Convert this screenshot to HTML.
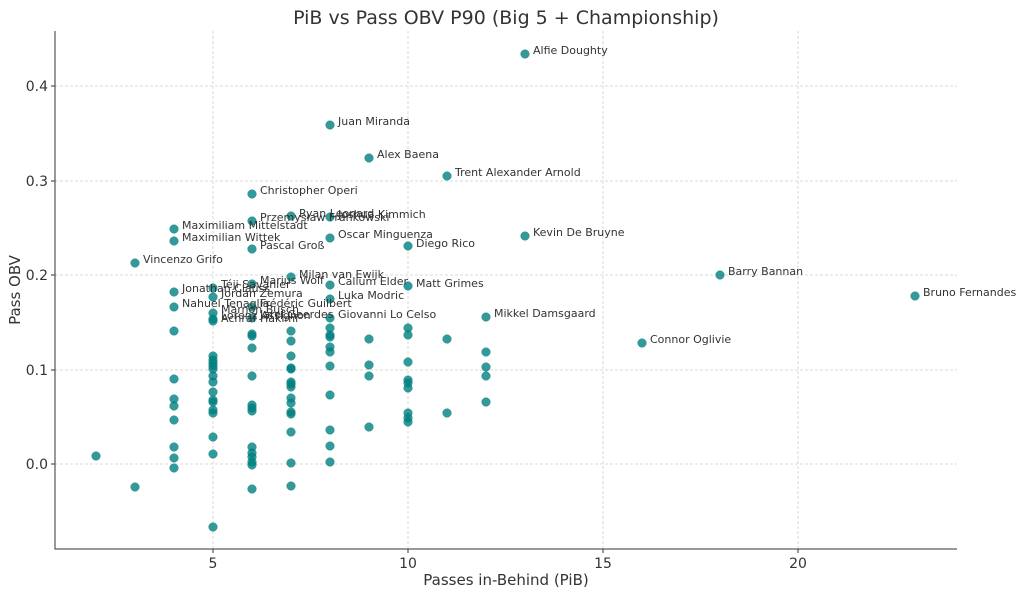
<!DOCTYPE html>
<html><head><meta charset="utf-8"><style>
body{margin:0;background:#fff;}
svg{display:block;font-family:"DejaVu Sans","Liberation Sans",sans-serif;}
.g{stroke:#d0d0d0;stroke-dasharray:3,2;stroke-width:0.8;}
.l{font-size:11px;fill:#333;}
.t{font-size:14px;fill:#333;}
circle{fill:#008080;fill-opacity:0.8;stroke:#008080;stroke-opacity:0.8;stroke-width:0.5;}
</style></head><body>
<svg width="1024" height="596" viewBox="0 0 1024 596">
<text x="506" y="24" text-anchor="middle" font-size="19" fill="#333">PiB vs Pass OBV P90 (Big 5 + Championship)</text>
<g class="g">
<line x1="213" y1="31" x2="213" y2="549"/><line x1="408" y1="31" x2="408" y2="549"/><line x1="603" y1="31" x2="603" y2="549"/><line x1="798" y1="31" x2="798" y2="549"/>
<line x1="55" y1="86" x2="957" y2="86"/><line x1="55" y1="181" x2="957" y2="181"/><line x1="55" y1="275" x2="957" y2="275"/><line x1="55" y1="370" x2="957" y2="370"/><line x1="55" y1="464" x2="957" y2="464"/>
</g>
<path d="M55,31V549H957" fill="none" stroke="#333" stroke-width="1"/>
<g stroke="#333"><line x1="213" y1="549" x2="213" y2="553"/><line x1="408" y1="549" x2="408" y2="553"/><line x1="603" y1="549" x2="603" y2="553"/><line x1="798" y1="549" x2="798" y2="553"/>
<line x1="51" y1="86" x2="55" y2="86"/><line x1="51" y1="181" x2="55" y2="181"/><line x1="51" y1="275" x2="55" y2="275"/><line x1="51" y1="370" x2="55" y2="370"/><line x1="51" y1="464" x2="55" y2="464"/></g>
<g class="t" text-anchor="middle"><text x="213" y="568">5</text><text x="408" y="568">10</text><text x="603" y="568">15</text><text x="798" y="568">20</text></g>
<g class="t" text-anchor="end"><text x="48" y="91">0.4</text><text x="48" y="186">0.3</text><text x="48" y="280">0.2</text><text x="48" y="375">0.1</text><text x="48" y="469">0.0</text></g>
<text x="506" y="585" text-anchor="middle" font-size="15" fill="#333">Passes in-Behind (PiB)</text>
<text x="20" y="290" text-anchor="middle" font-size="15" fill="#333" transform="rotate(-90 20 290)">Pass OBV</text>
<g id="pts">
<circle cx="525" cy="54" r="4.3"/><circle cx="330" cy="125" r="4.3"/><circle cx="369" cy="158" r="4.3"/><circle cx="447" cy="176" r="4.3"/><circle cx="252" cy="194" r="4.3"/><circle cx="291" cy="216" r="4.3"/><circle cx="330" cy="217" r="4.3"/><circle cx="252" cy="221" r="4.3"/><circle cx="174" cy="229" r="4.3"/><circle cx="174" cy="241" r="4.3"/><circle cx="330" cy="238" r="4.3"/><circle cx="525" cy="236" r="4.3"/><circle cx="252" cy="249" r="4.3"/><circle cx="408" cy="246" r="4.3"/><circle cx="135" cy="263" r="4.3"/><circle cx="291" cy="277" r="4.3"/><circle cx="720" cy="275" r="4.3"/><circle cx="252" cy="284" r="4.3"/><circle cx="213" cy="288" r="4.3"/><circle cx="330" cy="285" r="4.3"/><circle cx="408" cy="286" r="4.3"/><circle cx="915" cy="296" r="4.3"/><circle cx="174" cy="292" r="4.3"/><circle cx="213" cy="297" r="4.3"/><circle cx="330" cy="299" r="4.3"/><circle cx="174" cy="307" r="4.3"/><circle cx="252" cy="307" r="4.3"/><circle cx="213" cy="313" r="4.3"/><circle cx="486" cy="317" r="4.3"/><circle cx="213" cy="319" r="4.3"/><circle cx="213" cy="321" r="4.3"/><circle cx="252" cy="318" r="4.3"/><circle cx="330" cy="318" r="4.3"/><circle cx="642" cy="343" r="4.3"/>
<circle cx="96" cy="456" r="4.3"/><circle cx="135" cy="487" r="4.3"/>
<circle cx="174" cy="331" r="4.3"/><circle cx="174" cy="379" r="4.3"/><circle cx="174" cy="399" r="4.3"/><circle cx="174" cy="406" r="4.3"/><circle cx="174" cy="420" r="4.3"/><circle cx="174" cy="447" r="4.3"/><circle cx="174" cy="458" r="4.3"/><circle cx="174" cy="468" r="4.3"/>
<circle cx="213" cy="356" r="4.3"/><circle cx="213" cy="360" r="4.3"/><circle cx="213" cy="363" r="4.3"/><circle cx="213" cy="366" r="4.3"/><circle cx="213" cy="369" r="4.3"/><circle cx="213" cy="376" r="4.3"/><circle cx="213" cy="382" r="4.3"/><circle cx="213" cy="392" r="4.3"/><circle cx="213" cy="400" r="4.3"/><circle cx="213" cy="402" r="4.3"/><circle cx="213" cy="410" r="4.3"/><circle cx="213" cy="413" r="4.3"/><circle cx="213" cy="437" r="4.3"/><circle cx="213" cy="454" r="4.3"/><circle cx="213" cy="527" r="4.3"/>
<circle cx="252" cy="334" r="4.3"/><circle cx="252" cy="336" r="4.3"/><circle cx="252" cy="348" r="4.3"/><circle cx="252" cy="376" r="4.3"/><circle cx="252" cy="405" r="4.3"/><circle cx="252" cy="408" r="4.3"/><circle cx="252" cy="411" r="4.3"/><circle cx="252" cy="447" r="4.3"/><circle cx="252" cy="453" r="4.3"/><circle cx="252" cy="457" r="4.3"/><circle cx="252" cy="462" r="4.3"/><circle cx="252" cy="465" r="4.3"/><circle cx="252" cy="489" r="4.3"/>
<circle cx="291" cy="331" r="4.3"/><circle cx="291" cy="341" r="4.3"/><circle cx="291" cy="356" r="4.3"/><circle cx="291" cy="368" r="4.3"/><circle cx="291" cy="369" r="4.3"/><circle cx="291" cy="382" r="4.3"/><circle cx="291" cy="384" r="4.3"/><circle cx="291" cy="387" r="4.3"/><circle cx="291" cy="398" r="4.3"/><circle cx="291" cy="403" r="4.3"/><circle cx="291" cy="412" r="4.3"/><circle cx="291" cy="414" r="4.3"/><circle cx="291" cy="432" r="4.3"/><circle cx="291" cy="463" r="4.3"/><circle cx="291" cy="486" r="4.3"/>
<circle cx="330" cy="328" r="4.3"/><circle cx="330" cy="335" r="4.3"/><circle cx="330" cy="337" r="4.3"/><circle cx="330" cy="347" r="4.3"/><circle cx="330" cy="352" r="4.3"/><circle cx="330" cy="366" r="4.3"/><circle cx="330" cy="395" r="4.3"/><circle cx="330" cy="430" r="4.3"/><circle cx="330" cy="446" r="4.3"/><circle cx="330" cy="462" r="4.3"/>
<circle cx="369" cy="339" r="4.3"/><circle cx="369" cy="365" r="4.3"/><circle cx="369" cy="376" r="4.3"/><circle cx="369" cy="427" r="4.3"/>
<circle cx="408" cy="328" r="4.3"/><circle cx="408" cy="335" r="4.3"/><circle cx="408" cy="362" r="4.3"/><circle cx="408" cy="380" r="4.3"/><circle cx="408" cy="383" r="4.3"/><circle cx="408" cy="388" r="4.3"/><circle cx="408" cy="413" r="4.3"/><circle cx="408" cy="418" r="4.3"/><circle cx="408" cy="422" r="4.3"/>
<circle cx="447" cy="339" r="4.3"/><circle cx="447" cy="413" r="4.3"/>
<circle cx="486" cy="352" r="4.3"/><circle cx="486" cy="367" r="4.3"/><circle cx="486" cy="376" r="4.3"/><circle cx="486" cy="402" r="4.3"/>
</g>
<g class="l">
<text x="533" y="54">Alfie Doughty</text><text x="338" y="125">Juan Miranda</text><text x="377" y="158">Alex Baena</text><text x="455" y="176">Trent Alexander Arnold</text><text x="260" y="194">Christopher Operi</text>
<text x="299" y="217">Ryan Leonard</text><text x="338" y="218">Joshua Kimmich</text><text x="260" y="221">Przemysław Frankowski</text>
<text x="182" y="229">Maximiliam Mittelstadt</text><text x="182" y="241">Maximilian Wittek</text><text x="338" y="238">Oscar Minguenza</text><text x="533" y="236">Kevin De Bruyne</text><text x="260" y="249">Pascal Groß</text><text x="416" y="247">Diego Rico</text><text x="143" y="263">Vincenzo Grifo</text>
<text x="299" y="278">Milan van Ewijk</text><text x="728" y="275">Barry Bannan</text><text x="260" y="284">Marius Wolf</text><text x="221" y="288">Téji Savanier</text><text x="338" y="285">Callum Elder</text><text x="416" y="287">Matt Grimes</text><text x="923" y="296">Bruno Fernandes</text>
<text x="182" y="292">Jonathan Clauss</text><text x="221" y="297">Jordan Zemura</text><text x="338" y="299">Luka Modric</text><text x="182" y="307">Nahuel Tenaglia</text><text x="260" y="307">Frédéric Guilbert</text><text x="221" y="313">Marnon Busch</text><text x="494" y="317">Mikkel Damsgaard</text>
<text x="221" y="319">Lorenz Assignon</text><text x="221" y="322">Achraf Hakimi</text><text x="260" y="318">Jarel Geerdes</text><text x="338" y="318">Giovanni Lo Celso</text><text x="650" y="343">Connor Oglivie</text>
</g>
</svg>
</body></html>
